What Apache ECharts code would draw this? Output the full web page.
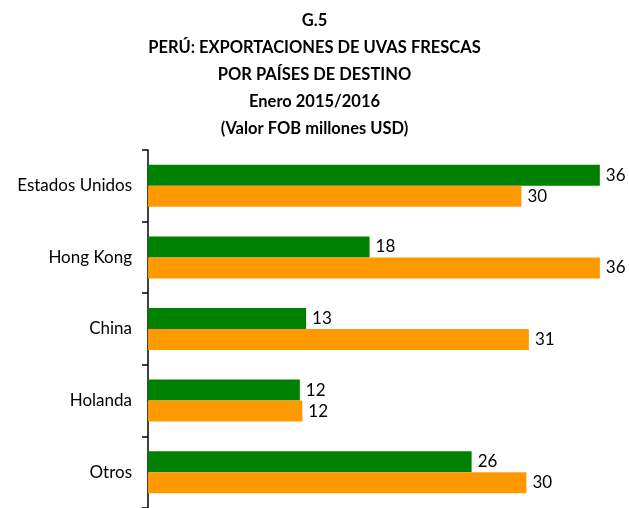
<!DOCTYPE html>
<html>
<head>
<meta charset="utf-8">
<script src="https://cdn.jsdelivr.net/npm/echarts@6/dist/echarts.min.js"></script>
<style>
  html, body { margin: 0; padding: 0; background: #fff; }
  #main { width: 629px; height: 508px; }
</style>
</head>
<body>
<div id="main"></div>
<script>
var paises = ['Estados Unidos', 'Hong Kong', 'China', 'Holanda', 'Otros'];
// valores estimados de la longitud de las barras (etiquetas redondeadas)
var valores2016 = [36.3, 17.8, 12.7, 12.2, 26.0];
var valores2015 = [30.0, 36.3, 30.6, 12.4, 30.4];
var titulo = ['G.5', 'PERÚ: EXPORTACIONES DE UVAS FRESCAS', 'POR PAÍSES DE DESTINO',
  'Enero 2015/2016', '(Valor FOB millones USD)'];

var FONT = 'Lato, "Open Sans", sans-serif';

var myChart = echarts.init(document.getElementById('main'));

var etiqueta = {
  show: true,
  position: 'right',
  distance: 6,
  color: '#000',
  fontFamily: FONT,
  fontSize: 17,
  formatter: function(p) {
    return Math.round(p.value);
  }
};

var option = {
  animation: false,
  title: {
    text: titulo.join('\n'),
    left: 'center',
    top: 2,
    textStyle: {
      fontFamily: FONT,
      fontWeight: 'bold',
      fontSize: 16.5,
      lineHeight: 27,
      color: '#000'
    }
  },
  grid: {
    left: 148,
    top: 150,
    right: 8,
    height: 358
  },
  xAxis: {
    type: 'value',
    min: 0,
    max: 38,
    show: false
  },
  yAxis: {
    type: 'category',
    data: paises,
    inverse: true,
    axisLine: { show: true, lineStyle: { color: '#000', width: 1.5 } },
    axisTick: { show: true, length: 6, lineStyle: { color: '#000', width: 1.5 } },
    axisLabel: {
      color: '#000',
      fontFamily: FONT,
      fontSize: 17,
      margin: 16
    }
  },
  series: [
    {
      name: 'Enero 2016',
      type: 'bar',
      data: valores2016,
      barWidth: 21,
      barGap: '0%',
      itemStyle: { color: '#008000' },
      label: etiqueta
    },
    {
      name: 'Enero 2015',
      type: 'bar',
      data: valores2015,
      barWidth: 21,
      barGap: '0%',
      itemStyle: { color: '#FF9900' },
      label: etiqueta
    }
  ]
};

myChart.setOption(option);
</script>
</body>
</html>
